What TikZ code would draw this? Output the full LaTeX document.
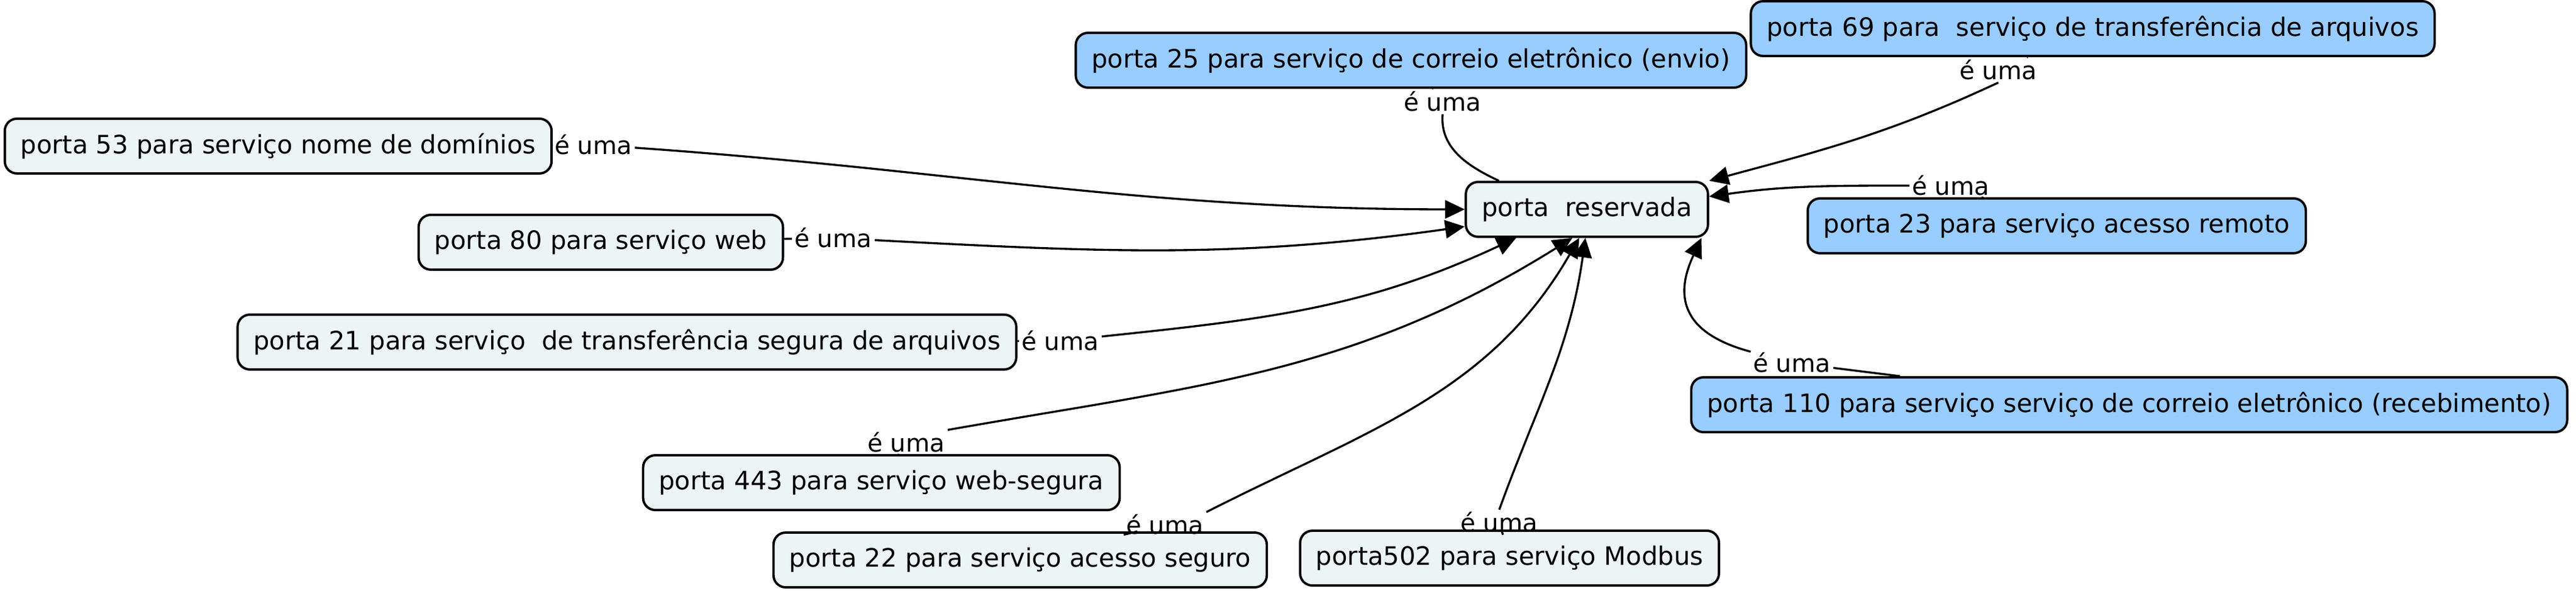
\documentclass[tikz,border=0pt]{standalone}
\usepackage{fontspec}
\setmainfont{DejaVu Sans}
\usetikzlibrary{arrows.meta}
\definecolor{conceptfill}{RGB}{237,244,246}
\definecolor{conceptblue}{RGB}{153,204,255}
\begin{document}
\begin{tikzpicture}[
  c/.style={rectangle, rounded corners=0.2cm, draw, line width=1.1pt, fill=conceptfill, minimum height=0.9cm, inner xsep=0.26cm, font=\fontsize{11.85}{14}\selectfont},
  cb/.style={c, fill=conceptblue},
  lk/.style={inner sep=1pt, font=\fontsize{11.5}{13}\selectfont},
  e/.style={line width=0.95pt},
  ea/.style={e, -{Triangle[length=0.32cm,width=0.3cm]}}
]
\useasboundingbox (0,0) rectangle (42.32,-9.71);
\node[c] (res) at (26.07,-3.44) {porta\ \ reservada};
\node[cb] (p25) at (23.18,-0.99) {porta 25 para serviço de correio eletrônico (envio)};
\node[cb] (p69) at (34.38,-0.47) {porta 69 para\ \ serviço de transferência de arquivos};
\node[c] (p53) at (4.57,-2.40) {porta 53 para serviço nome de domínios};
\node[c] (p80) at (9.87,-3.98) {porta 80 para serviço web};
\node[c] (p21) at (10.30,-5.62) {porta 21 para serviço\ \ de transferência segura de arquivos};
\node[c] (p443) at (14.48,-7.93) {porta 443 para serviço web-segura};
\node[c] (p22) at (16.76,-9.20) {porta 22 para serviço acesso seguro};
\node[c] (p502) at (24.80,-9.17) {porta502 para serviço Modbus};
\node[cb] (p23) at (33.79,-3.71) {porta 23 para serviço acesso remoto};
\node[cb] (p110) at (34.98,-6.65) {porta 110 para serviço serviço de correio eletrônico (recebimento)};
\node[lk] (l25) at (23.70,-1.67) {é uma};
\node[lk] (l69) at (32.83,-1.15) {é uma};
\node[lk] (l53) at (9.75,-2.38) {é uma};
\node[lk] (l80) at (13.69,-3.91) {é uma};
\node[lk] (l21) at (17.42,-5.60) {é uma};
\node[lk] (l443) at (14.89,-7.27) {é uma};
\node[lk] (l22) at (19.14,-8.62) {é uma};
\node[lk] (l502) at (24.63,-8.58) {é uma};
\node[lk] (l23) at (32.05,-3.05) {é uma};
\node[lk] (l110) at (29.44,-5.96) {é uma};
\draw[e] (p53) -- (l53);
\draw[ea] (l53) to[out=-4,in=180] (res.west);
\draw[e] (p80) -- (l80);
\draw[ea] (l80) to[out=-3,in=188] (res.188);
\draw[e] (p21) -- (l21);
\draw[ea] (l21) to[out=6,in=205] (res.202);
\draw[e] (p443) -- (l443);
\draw[ea] (l443.north east) to[out=10,in=212] (res.243);
\draw[e] (p22) -- (l22);
\draw[ea] (l22.north east) to[out=27,in=240] (res.255);
\draw[e] (p502) -- (l502);
\draw[ea] (l502.north) to[out=70,in=262] (res.267);
\draw[e] (p110) -- (l110);
\draw[ea] (l110) to[out=165,in=245,looseness=1.4] (res.-14);
\draw[e] (p23) -- (l23);
\draw[ea] (l23) to[out=180,in=8] (res.6);
\draw[e] (p69) -- (l69);
\draw[ea] (l69.south) to[out=205,in=15] (res.north east);
\draw[e] (p25) -- (l25);
\draw[e] (l25.south) to[out=-95,in=155] (res.162);
\end{tikzpicture}
\end{document}
